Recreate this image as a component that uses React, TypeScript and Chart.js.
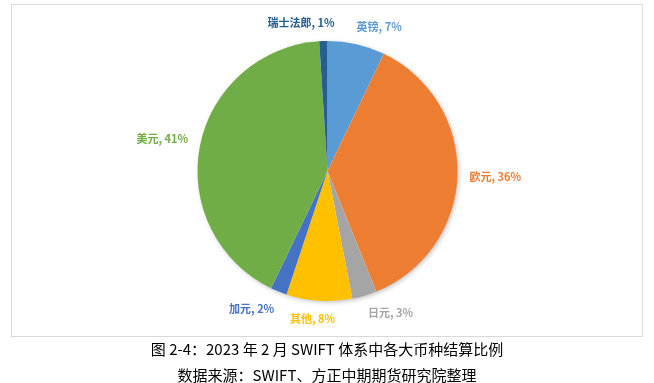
import React, { useEffect, useRef } from "react";
import { Chart, registerables } from "chart.js";

Chart.register(...registerables);

const categories = ["英镑", "欧元", "日元", "其他", "加元", "美元", "瑞士法郎"];
const shares = [7, 36, 3, 8, 2, 41, 1];
const colors = ["#5B9BD5", "#ED7D31", "#A5A5A5", "#FFC000", "#4472C4", "#70AD47", "#255E91"];
const captionTitle = "图 2-4：2023 年 2 月 SWIFT 体系中各大币种结算比例";
const captionSource = "数据来源：SWIFT、方正中期期货研究院整理";

const clamp = (v: number) => Math.max(-1, Math.min(1, v));

const shadowPlugin = {
  id: "pieShadow",
  beforeDatasetsDraw(chart: any) {
    const meta = chart.getDatasetMeta(0);
    const arc = meta.data[0];
    if (!arc) return;
    const { x, y, outerRadius } = arc.getProps(["x", "y", "outerRadius"], true);
    const ctx = chart.ctx;
    ctx.save();
    ctx.shadowColor = "rgba(0,0,0,0.28)";
    ctx.shadowBlur = 5;
    ctx.shadowOffsetX = 1.5;
    ctx.shadowOffsetY = 1.5;
    ctx.beginPath();
    ctx.arc(x, y, outerRadius - 0.5, 0, Math.PI * 2);
    ctx.fillStyle = "#ffffff";
    ctx.fill();
    ctx.restore();
  },
};

const labelPlugin = {
  id: "outsideLabels",
  afterDatasetsDraw(chart: any) {
    const meta = chart.getDatasetMeta(0);
    const ctx = chart.ctx;
    ctx.save();
    ctx.font = "bold 11px 'Noto Sans CJK SC', sans-serif";
    ctx.textAlign = "center";
    ctx.textBaseline = "middle";
    const h = 12;
    const boxes = meta.data.map((arc: any, i: number) => {
      const { x, y, startAngle, endAngle, outerRadius } = arc.getProps(
        ["x", "y", "startAngle", "endAngle", "outerRadius"],
        true
      );
      const mid = (startAngle + endAngle) / 2;
      const ux = Math.cos(mid);
      const uy = Math.sin(mid);
      const r = outerRadius + 12;
      const px = x + r * ux;
      const py = y + r * uy;
      const text = `${categories[i]}, ${shares[i]}%`;
      const w = ctx.measureText(text).width;
      return {
        text,
        w,
        cx: px + (w / 2) * clamp(ux * 4),
        cy: py + (h / 2) * clamp(uy * 4),
        color: colors[i],
        value: shares[i],
      };
    });
    // simple collision avoidance: the smaller slice's label moves away from a near neighbour on the same row
    const minGap = 22;
    for (let a = 0; a < boxes.length; a++) {
      for (let b = 0; b < boxes.length; b++) {
        if (a === b) continue;
        const A = boxes[a];
        const B = boxes[b];
        if (B.value >= A.value) continue;
        if (Math.abs(A.cy - B.cy) > 7) continue;
        const gap = Math.abs(A.cx - B.cx) - (A.w + B.w) / 2;
        if (gap < minGap) {
          const dir = B.cx < A.cx ? -1 : 1;
          B.cx += dir * (minGap - gap);
        }
      }
    }
    boxes.forEach((bx: any) => {
      ctx.fillStyle = bx.color;
      ctx.fillText(bx.text, bx.cx, bx.cy);
    });
    ctx.restore();
  },
};

export default function App() {
  const canvasRef = useRef<HTMLCanvasElement | null>(null);

  useEffect(() => {
    if (!canvasRef.current) return;
    const chart = new Chart(canvasRef.current, {
      type: "pie",
      data: {
        labels: categories,
        datasets: [
          {
            data: shares,
            backgroundColor: colors,
            borderWidth: 0,
          },
        ],
      },
      options: {
        responsive: false,
        animation: false,
        devicePixelRatio: 1,
        radius: 130,
        rotation: 0,
        layout: { padding: { left: 101, right: 100, top: 20, bottom: 61 } },
        plugins: {
          legend: { display: false },
          tooltip: { enabled: false },
          title: { display: false },
        },
      } as any,
      plugins: [shadowPlugin, labelPlugin],
    });
    return () => chart.destroy();
  }, []);

  return (
    <div
      style={{
        position: "fixed",
        left: 0,
        top: 0,
        width: 654,
        height: 383,
        background: "#ffffff",
        overflow: "hidden",
      }}
    >
      <div
        style={{
          position: "absolute",
          left: 11,
          top: 4,
          width: 630,
          height: 331,
          border: "1px solid #d9d9d9",
        }}
      />
      <canvas
        ref={canvasRef}
        width={654}
        height={383}
        style={{ position: "absolute", left: 0, top: 0, width: 654, height: 383 }}
      />
      <div
        style={{
          position: "absolute",
          left: 0,
          width: 654,
          top: 336,
          textAlign: "center",
          fontFamily: "'Noto Sans CJK SC', sans-serif",
          fontSize: 15,
          lineHeight: "26px",
          color: "#000000",
        }}
      >
        <div>{captionTitle}</div>
        <div>{captionSource}</div>
      </div>
    </div>
  );
}
